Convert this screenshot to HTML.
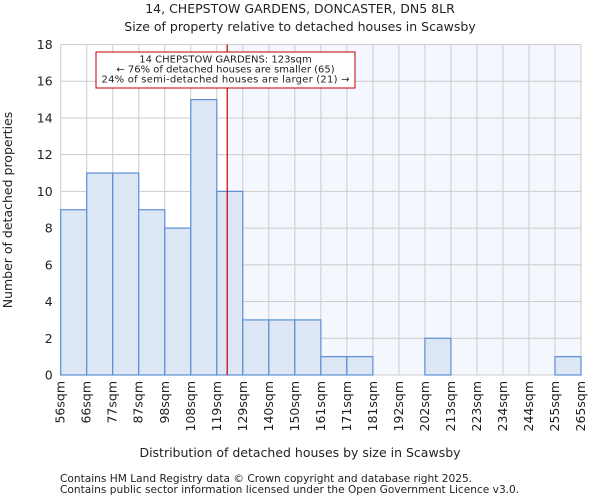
<!DOCTYPE html>
<html><head><meta charset="utf-8"><style>
body{margin:0;background:#fff;font-family:"DejaVu Sans","Liberation Sans",sans-serif}
svg text{font-family:"DejaVu Sans","Liberation Sans",sans-serif;fill:#222}
</style></head><body>
<svg id="c" width="600" height="500" viewBox="0 0 600 500">
<text x="300" y="13" text-anchor="middle" font-size="12.5">14, CHEPSTOW GARDENS, DONCASTER, DN5 8LR</text>
<text x="300" y="31" text-anchor="middle" font-size="12.5">Size of property relative to detached houses in Scawsby</text>
<g id="plot"></g>
<text x="300" y="457" text-anchor="middle" font-size="12.5">Distribution of detached houses by size in Scawsby</text>
<text transform="translate(12,210) rotate(-90)" text-anchor="middle" font-size="12.5">Number of detached properties</text>
<text x="60" y="482" font-size="10.6" fill="#555">Contains HM Land Registry data © Crown copyright and database right 2025.</text>
<text x="60" y="493" font-size="10.6" fill="#555">Contains public sector information licensed under the Open Government Licence v3.0.</text>
</svg>
<script>
const categories=["56sqm","66sqm","77sqm","87sqm","98sqm","108sqm","119sqm","129sqm","140sqm","150sqm","161sqm","171sqm","181sqm","192sqm","202sqm","213sqm","223sqm","234sqm","244sqm","255sqm","265sqm"];
const counts=[9,11,11,9,8,15,10,3,3,3,1,1,0,0,2,0,0,0,0,1];
const yTicks=[0,2,4,6,8,10,12,14,16,18];
const markerBin=6.4;
const NS="http://www.w3.org/2000/svg";
const L=60.7,R=581,T=44.5,B=375;
const n=counts.length,bw=(R-L)/n;
const xs=i=>L+i*bw;
const ys=v=>B-(v/18)*(B-T);
const g=document.getElementById('plot');
function mk(t,a){const e=document.createElementNS(NS,t);for(const k in a)e.setAttribute(k,a[k]);g.appendChild(e);return e;}
const mx=xs(markerBin);
let e=mk('rect',{x:mx,y:T,width:R-mx,height:B-T,fill:'#f4f7fd'});


for(let i=0;i<=n;i++){e=mk('line',{x1:xs(i),x2:xs(i),y1:T,y2:B,stroke:'#cccccc','stroke-width':1});

}
yTicks.forEach(v=>{e=mk('line',{x1:L,x2:R,y1:ys(v),y2:ys(v),stroke:'#cccccc','stroke-width':1});


const t=mk('text',{x:L-8,y:ys(v)+4.5,'text-anchor':'end','font-size':12.5});t.textContent=v;

});
counts.forEach((v,i)=>{if(v<=0)return;e=mk('rect',{x:xs(i),y:ys(v),width:bw,height:ys(0)-ys(v),fill:'#dce6f4',stroke:'#5b8fd6','stroke-width':1.2});

});
categories.forEach((c,i)=>{const x=xs(i)+4;const t=mk('text',{transform:`translate(${x},${B+6}) rotate(-90)`,'text-anchor':'end','font-size':12.5});t.textContent=c;

});
e=mk('line',{x1:mx,x2:mx,y1:T,y2:B,stroke:'#c00000','stroke-width':1.2});


e=mk('rect',{x:96,y:52,width:259,height:36,fill:'#fff',stroke:'#c00000','stroke-width':1});


["14 CHEPSTOW GARDENS: 123sqm","← 76% of detached houses are smaller (65)","24% of semi-detached houses are larger (21) →"].forEach((s,k)=>{const t=mk('text',{x:225.5,y:62.5+k*10,'text-anchor':'middle','font-size':10,textLength:k==2?248:null});t.textContent=s;
if(k!=2)t.removeAttribute('textLength');

});
</script>
</body></html>
